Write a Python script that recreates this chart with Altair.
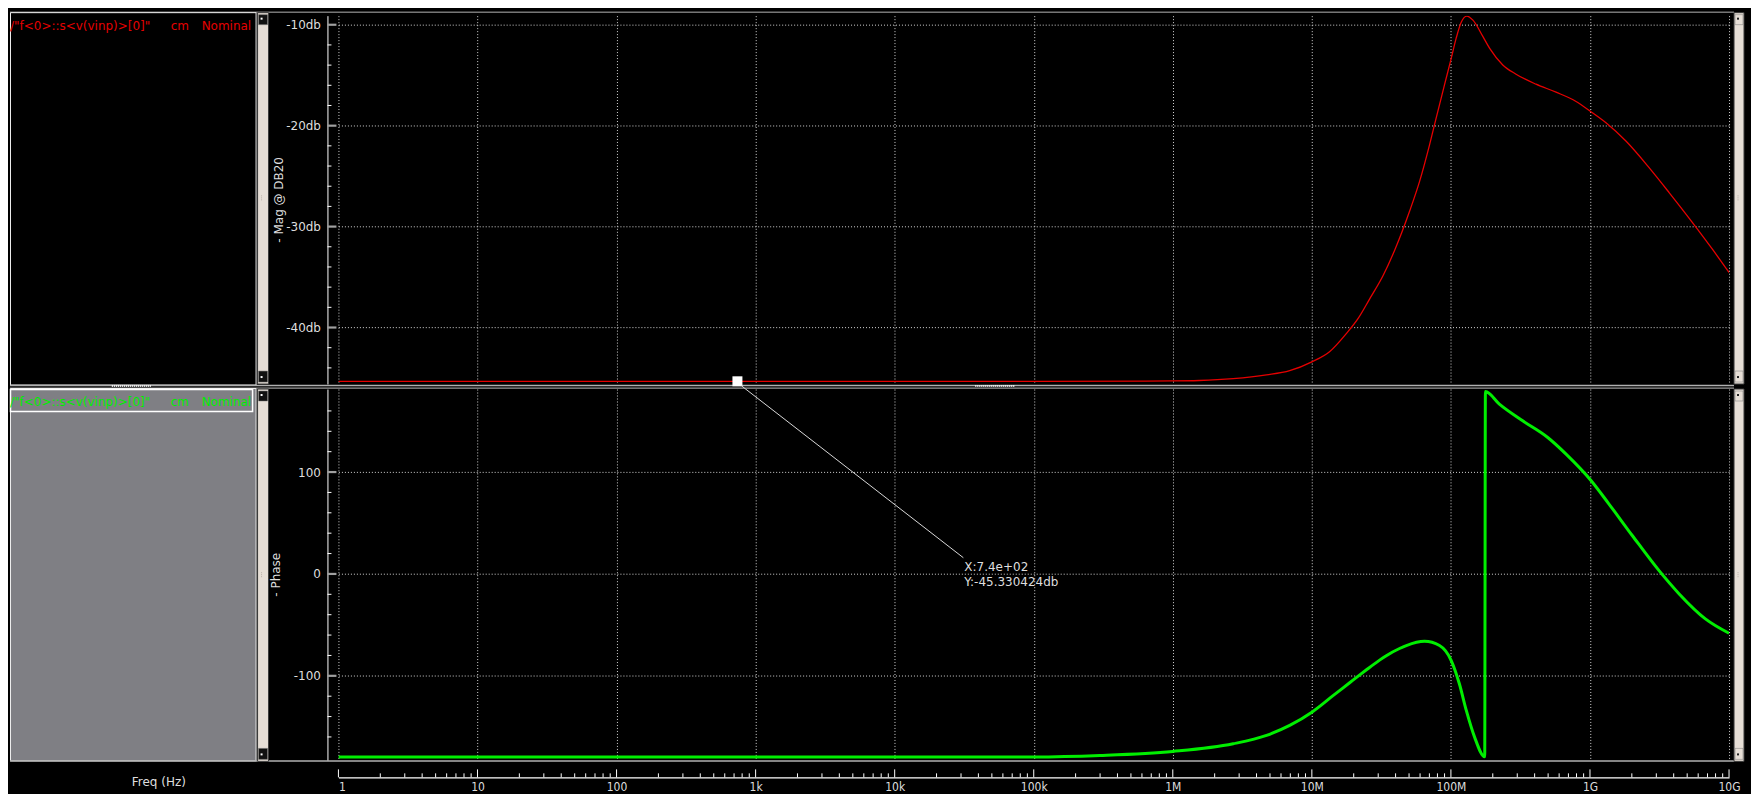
import altair as alt
import pandas as pd

# ---------------- data ----------------
mag_freq = [1, 10, 100, 1e3, 1e4, 1e5, 1e6, 1.55e6, 2.72e6, 4.72e6, 6.93e6, 1.0e7,
            1.34e7, 1.77e7, 2.14e7, 2.60e7, 3.24e7, 3.98e7, 5.05e7, 5.96e7, 7.02e7,
            7.83e7, 8.99e7, 1.0e8, 1.09e8, 1.19e8, 1.30e8, 1.44e8, 1.70e8, 1.90e8,
            2.36e8, 2.94e8, 4.09e8, 5.70e8, 7.94e8, 1.01e9, 1.31e9, 1.82e9, 2.67e9,
            3.72e9, 5.46e9, 7.59e9, 1.0e10]
mag_db = [-45.33, -45.33, -45.33, -45.33, -45.33, -45.33, -45.29, -45.25, -45.07,
          -44.7, -44.28, -43.4, -42.4, -40.6, -39.15, -37.18, -34.9, -32.2, -28.46,
          -25.5, -21.9, -19.25, -15.95, -13.46, -11.35, -9.70, -9.14, -9.54, -11.18,
          -12.34, -13.98, -14.9, -15.89, -16.68, -17.6, -18.59, -19.74, -21.55,
          -24.18, -26.65, -29.6, -32.24, -34.55]

phase_freq = [1, 10, 100, 1e3, 1e4, 1e5, 3.0e5, 1e6, 2.72e6, 4.72e6, 6.93e6, 1e7,
              1.42e7, 1.87e7, 2.2e7, 2.47e7, 3.07e7, 3.43e7, 4.27e7, 4.78e7, 6.46e7,
              8.28e7, 1.005e8, 1.15e8, 1.29e8, 1.48e8, 1.75e8, 1.77e8, 2.23e8, 3.28e8,
              4.97e8, 6.73e8, 1.02e9, 1.37e9, 2.02e9, 3.14e9, 4.38e9, 6.76e9, 1e10]
phase_deg = [-179.8, -179.8, -179.8, -179.8, -179.8, -179.6, -178.1, -174.2, -166.7,
             -158.5, -148.7, -135.7, -119.5, -106.8, -99.3, -94.1, -84.6, -80.2, -73.2,
             -70.3, -66.1, -70.3, -85.0, -107.8, -134.0, -160.2, -179.5, 179.0, 166.7,
             150.3, 133.9, 117.6, 91.5, 68.6, 37.5, 3.2, -19.6, -44.1, -58.2]

x_major = [1, 10, 100, 1e3, 1e4, 1e5, 1e6, 1e7, 1e8, 1e9, 1e10]
x_labels = ["1", "10", "100", "1k", "10k", "100k", "1M", "10M", "100M", "1G", "10G"]
x_minor = [m * d for d in x_major[:-1] for m in range(2, 10)]

mag_major = [-10, -20, -30, -40]
mag_minor = [-12, -14, -16, -18, -22, -24, -26, -28, -32, -34, -36, -38, -42, -44]
phase_major = [100, 0, -100]
phase_minor = [160, 140, 120, 80, 60, 40, 20, -20, -40, -60, -80, -120, -140, -160]

legend_name = '/"f<0>::s<v(vinp)>[0]"'
legend_corner = "cm"
legend_sweep = "Nominal"
mag_title = "- Mag @ DB20"
phase_title = "- Phase"
x_title = "Freq (Hz)"
marker_freq = [740]
marker_db = [-45.330424]
marker_text = ["X:7.4e+02", "Y:-45.330424db"]

# ---------------- layout ----------------
W, H1, H2 = 1393, 369, 372
LIGHT = "#dedede"
RED = "#e60000"
GREEN = "#00ee00"
ONE = pd.DataFrame({"k": [0]})
FONT = "DejaVu Sans"


def rect(x1, x2, y1, y2, fill, stroke="transparent", sw=0):
    return alt.Chart(ONE).mark_rect(fill=fill, stroke=stroke, strokeWidth=sw).encode(
        x=alt.value(x1), x2=alt.value(x2), y=alt.value(y1), y2=alt.value(y2))


def rule(x1, y1, x2=None, y2=None, color="white", w=1, dash=None):
    kw = dict(color=color, strokeWidth=w)
    if dash:
        kw["strokeDash"] = dash
    enc = dict(x=alt.value(x1), y=alt.value(y1))
    if x2 is not None:
        enc["x2"] = alt.value(x2)
    if y2 is not None:
        enc["y2"] = alt.value(y2)
    return alt.Chart(ONE).mark_rule(**kw).encode(**enc)


def text(x, y, s, color, size=12, align="left", angle=0, font=FONT):
    return alt.Chart(ONE).mark_text(color=color, fontSize=size, align=align,
                                    baseline="middle", angle=angle, font=font).encode(
        x=alt.value(x), y=alt.value(y), text=alt.value(s))


def scrollbar(x1, x2, y1, y2, dark):
    btn = "#111111" if dark else "#e6ded6"
    glyph = "#ffffff" if dark else "#222222"
    mid = (y1 + y2) / 2
    return [
        rect(x1, x2, y1, y2, "#e6ded6", "#3a3a3a", 1),
        rect(x1 + 1, x2 - 1, y1 + 2, y1 + 12, btn, "#777777", 0.5),
        rect(x1 + 3, x1 + 5, y1 + 5, y1 + 7, glyph),
        rect(x1 + 1, x2 - 1, y2 - 13, y2 - 2, btn, "#777777", 0.5),
        rect(x1 + 3, x1 + 5, y2 - 8, y2 - 6, glyph),
        rule(x1 + 4, mid - 3, None, mid + 3, "#b8b0a8", 1, [1, 1]),
    ]


xs = alt.Scale(type="log", domain=[1, 1e10], nice=False)
ys1 = alt.Scale(domain=[-45.6, -9.1], nice=False, zero=False)
ys2 = alt.Scale(domain=[-183, 181.5], nice=False, zero=False)
grid_kw = dict(grid=True, gridColor="#d4d4d4", gridDash=[1, 2], gridWidth=1)

x_expr = " : ".join(f"datum.value == {v:.0f} ? '{l}'" for v, l in zip(x_major, x_labels)) + " : ''"

ax_x_top = alt.Axis(values=x_major, labels=False, ticks=False, domain=False, title=None, **grid_kw)
ax_y_top = alt.Axis(values=mag_major, labelExpr="datum.value + 'db'", labelColor=LIGHT,
                    labelFontSize=12, labelFont=FONT, labelPadding=7, ticks=True, tickSize=0,
                    domain=True, domainColor="white", domainWidth=1, offset=11, title=None,
                    **grid_kw)
ax_x_bot = alt.Axis(values=x_major, labelExpr=x_expr, labelColor=LIGHT, labelFontSize=12,
                    labelFont="DejaVu Sans Condensed, DejaVu Sans", labelPadding=4,
                    labelFlush=False,
                    labelAlign={"condition": {"test": "datum.value <= 1", "value": "left"},
                                "value": "center"},
                    ticks=True, tickSize=0, domain=True, domainColor="white", domainWidth=1.2,
                    offset=17, title=None, **grid_kw)
ax_y_bot = alt.Axis(values=phase_major, labelExpr="'' + datum.value", labelColor=LIGHT,
                    labelFontSize=12, labelFont=FONT, labelPadding=7, ticks=True, tickSize=0,
                    domain=True, domainColor="white", domainWidth=1, offset=11, title=None,
                    **grid_kw)

# ---------------- top panel (magnitude) ----------------
top_layers = [
    rect(-329, -328, -6, -5, "black"),                     # page anchor (top-left)
    rect(1413, 1414, 775, 776, "black"),                   # page anchor (bottom-right)
    rule(-329, -3.5, 1398, None, "#b4b4b4", 1),            # top frame
    rect(-328.5, -82.5, -3, 370, "black", "#f0f0f0", 1),   # legend box
    text(-329, 10.3, legend_name, RED),
    text(-168, 10.3, legend_corner, RED),
    text(-137, 10.3, legend_sweep, RED),
    rule(-329, 370.5, 1398, None, "#b0b0b0", 1.5),         # splitter
    rule(-329, 373.2, 1398, None, "#9a9a9a", 1.2),
    rule(-227, 371, -187, None, "white", 2, [1, 1]),
    rule(638, 371, 678, None, "white", 2, [1, 1]),
]
top_layers += scrollbar(-81, -70, -3, 369, True)
top_layers += scrollbar(1398, 1408, -3, 369, False)
top_layers += [
    text(-60, H1 / 2, mag_title, LIGHT, angle=270, align="center"),
    alt.Chart(pd.DataFrame({"freq": mag_freq, "db": mag_db})).mark_line(
        color=RED, strokeWidth=1.3, clip=True, interpolate="monotone").encode(
        x=alt.X("freq:Q", scale=xs, axis=ax_x_top),
        y=alt.Y("db:Q", scale=ys1, axis=ax_y_top),
    ),
    alt.Chart(pd.DataFrame({"v": mag_minor})).mark_rule(color="white", strokeWidth=1).encode(
        y=alt.Y("v:Q", scale=ys1, axis=ax_y_top), x=alt.value(-11), x2=alt.value(-7)),
    alt.Chart(pd.DataFrame({"v": mag_major})).mark_rule(color="#a0a0a0", strokeWidth=2.2).encode(
        y=alt.Y("v:Q", scale=ys1, axis=ax_y_top), x=alt.value(-11), x2=alt.value(-2)),
    alt.Chart(pd.DataFrame({"freq": marker_freq, "db": marker_db})).mark_square(
        size=100, color="white", filled=True, opacity=1).encode(
        x=alt.X("freq:Q", scale=xs, axis=ax_x_top), y=alt.Y("db:Q", scale=ys1, axis=ax_y_top)),
]
top = alt.layer(*top_layers).properties(width=W, height=H1)

# ---------------- bottom panel (phase) ----------------
bot_layers = [
    rect(-328.5, -82.5, -0.5, 372.5, "#7f7f84", "#f0f0f0", 1),  # legend panel
    rect(-328.5, -86, 0.5, 22.5, "#7f7f84", "#ffffff", 1.5),    # legend entry box
    text(-329, 12.7, legend_name, GREEN),
    text(-168, 12.7, legend_corner, GREEN),
    text(-137, 12.7, legend_sweep, GREEN),
    rule(-329, 372.7, 1398, None, "#b0b0b0", 1.5),              # bottom frame
]
bot_layers += scrollbar(-81, -70, 0, 373, True)
bot_layers += scrollbar(1398, 1408, 0, 373, False)
bot_layers += [
    text(-63, H2 / 2, phase_title, LIGHT, angle=270, align="center"),
    text(-207, 394, x_title, LIGHT),
    alt.Chart(pd.DataFrame({"freq": phase_freq, "deg": phase_deg})).mark_line(
        color=GREEN, strokeWidth=3, clip=True, interpolate="monotone").encode(
        x=alt.X("freq:Q", scale=xs, axis=ax_x_bot),
        y=alt.Y("deg:Q", scale=ys2, axis=ax_y_bot),
    ),
    alt.Chart(pd.DataFrame({"v": phase_minor})).mark_rule(color="white", strokeWidth=1).encode(
        y=alt.Y("v:Q", scale=ys2, axis=ax_y_bot), x=alt.value(-11), x2=alt.value(-7)),
    alt.Chart(pd.DataFrame({"v": phase_major})).mark_rule(color="#a0a0a0", strokeWidth=2.2).encode(
        y=alt.Y("v:Q", scale=ys2, axis=ax_y_bot), x=alt.value(-11), x2=alt.value(-2)),
    alt.Chart(pd.DataFrame({"v": x_minor})).mark_rule(color="white", strokeWidth=1).encode(
        x=alt.X("v:Q", scale=xs, axis=ax_x_bot), y=alt.value(H2 + 13), y2=alt.value(H2 + 17)),
    alt.Chart(pd.DataFrame({"v": x_major})).mark_rule(color="white", strokeWidth=1).encode(
        x=alt.X("v:Q", scale=xs, axis=ax_x_bot), y=alt.value(H2 + 9), y2=alt.value(H2 + 17)),
    rule(404, -3, 626, 169, "#d8d8d8", 1),
    text(627, 178, marker_text[0], LIGHT),
    text(627, 193.7, marker_text[1], LIGHT),
]
bottom = alt.layer(*bot_layers).properties(width=W, height=H2)

chart = alt.vconcat(top, bottom, spacing=5, bounds="flush", padding=0).configure(
    background="black", font=FONT).configure_view(stroke="transparent")

chart.save("out.html", embed_options={"renderer": "svg", "actions": False})
